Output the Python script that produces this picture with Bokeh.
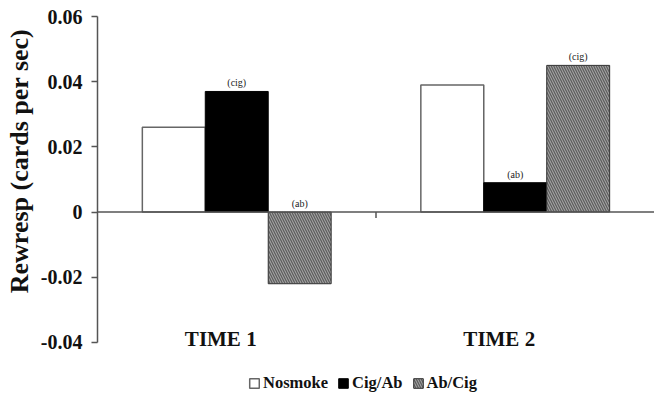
from bokeh.plotting import figure
from bokeh.models import (Range1d, FixedTicker, NumeralTickFormatter, Span,
                          Legend, LegendItem, ColumnDataSource)
from bokeh.core.properties import value
from bokeh.embed import file_html
from bokeh.resources import INLINE

# ---- data ----
categories = ["TIME 1", "TIME 2"]
series = ["Nosmoke", "Cig/Ab", "Ab/Cig"]
nosmoke = [0.026, 0.039]
cig_ab = [0.037, 0.009]
ab_cig = [-0.022, 0.045]
notes_cig_ab = ["(cig)", "(ab)"]
notes_ab_cig = ["(ab)", "(cig)"]
y_ticks = [-0.04, -0.02, 0, 0.02, 0.04, 0.06]

FONT = "Liberation Serif"
bw = 0.226

p = figure(width=654, height=398, output_backend="svg", toolbar_location=None,
           x_range=Range1d(0, 2.0), y_range=Range1d(-0.0566, 0.06),
           min_border_left=97, min_border_right=0, min_border_top=16,
           min_border_bottom=2, x_axis_type=None)
p.grid.visible = False
p.outline_line_color = None
p.background_fill_color = "white"

yax = p.yaxis[0]
yax.ticker = FixedTicker(ticks=y_ticks)
yax.bounds = (-0.04, 0.06)
yax.formatter = NumeralTickFormatter(format="0.00")
yax.major_label_overrides = {0: "0"}
# leading no-break spaces lift the rotated title to sit over the axis span
yax.axis_label = "\u00a0" * 14 + "Rewresp (cards per sec)"
yax.axis_label_text_font = FONT
yax.axis_label_text_font_style = "bold"
yax.axis_label_text_font_size = "26px"
yax.axis_label_text_color = "#111111"
yax.axis_label_standoff = 4
yax.major_label_text_font = FONT
yax.major_label_text_font_style = "bold"
yax.major_label_text_font_size = "20px"
yax.major_label_text_color = "#111111"
yax.major_label_standoff = 9
yax.axis_line_color = "#555555"
yax.axis_line_width = 1.5
yax.major_tick_line_color = "#555555"
yax.major_tick_line_width = 1.5
yax.major_tick_in = 0
yax.major_tick_out = 6
yax.minor_tick_line_color = None

idx = list(range(len(categories)))
centers = [i + 0.5 for i in idx]

src = ColumnDataSource(dict(
    x0=[c - bw for c in centers], x1=centers, x2=[c + bw for c in centers],
    nosmoke=nosmoke, cig_ab=cig_ab, ab_cig=ab_cig,
    n1=notes_cig_ab, n2=notes_ab_cig,
    t1=[max(v, 0) for v in cig_ab], t2=[max(v, 0) for v in ab_cig],
))

r1 = p.vbar(x="x0", top="nosmoke", bottom=0, width=bw, source=src,
            fill_color="white", line_color="#666666", line_width=1.5)
r2 = p.vbar(x="x1", top="cig_ab", bottom=0, width=bw, source=src,
            fill_color="black", line_color="black", line_width=1)
r3 = p.vbar(x="x2", top="ab_cig", bottom=0, width=bw, source=src,
            fill_color="#5e5e5e", hatch_pattern="\\", hatch_color="#b4b4b4",
            hatch_scale=5, hatch_weight=0.9, line_color="#333333", line_width=1)

# zero line
p.add_layout(Span(location=0, dimension="width", line_color="#555555", line_width=1.5))
# category separator tick
sep = [i for i in idx[1:]]
p.segment(x0=sep, x1=sep, y0=[0] * len(sep), y1=[-0.0018] * len(sep),
          line_color="#555555", line_width=1.5)

# notes
for xcol, tcol, ncol in (("x1", "t1", "n1"), ("x2", "t2", "n2")):
    p.text(x=xcol, y=tcol, text=ncol, source=src, text_font=value(FONT),
           text_font_size="10px", text_align="center", text_baseline="bottom",
           y_offset=-3, text_color="#222222")

# category labels
p.text(x=centers, y=[-0.04] * len(centers), text=categories, text_font=value(FONT),
       text_font_style="bold", text_font_size="21px", text_align="center",
       text_baseline="middle", x_offset=-16, y_offset=-3, text_color="#111111")

legend = Legend(items=[LegendItem(label=series[0], renderers=[r1]),
                       LegendItem(label=series[1], renderers=[r2]),
                       LegendItem(label=series[2], renderers=[r3])],
                orientation="horizontal", location=(151, 3),
                label_text_font=FONT, label_text_font_style="bold",
                label_text_font_size="16.5px", label_text_color="#111111",
                glyph_width=12, glyph_height=12, label_standoff=3, spacing=9,
                padding=0, margin=0, border_line_color=None,
                background_fill_alpha=0, label_height=14)
p.add_layout(legend, "center")

open("out.html", "w").write(file_html(p, INLINE))
